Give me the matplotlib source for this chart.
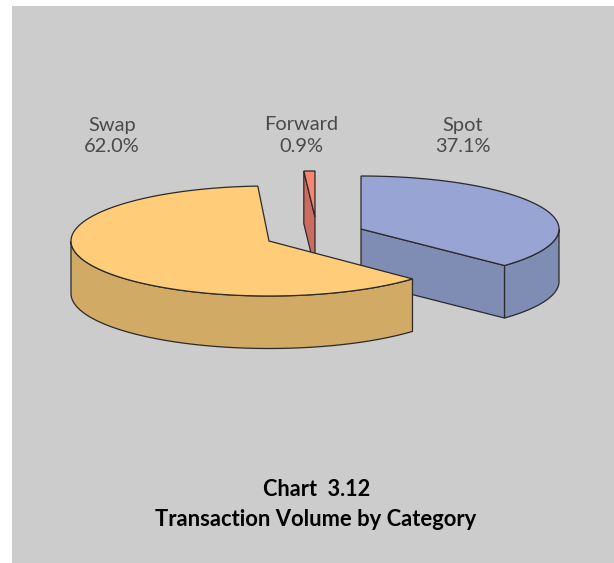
import numpy as np
import matplotlib
matplotlib.use('Agg')
import matplotlib.pyplot as plt
from matplotlib.patches import Rectangle

labels = ['Spot', 'Swap', 'Forward']
shares = [37.1, 62.0, 0.9]

top_colors = ['#98A4D4', '#FFCC7A', '#F58672']
side_colors = ['#7F8CB4', '#D1AA66', '#CC6C60']

#pixel layout of the exploded slices
centers = [(361, 229), (269, 241), (315, 217)]
radius_y = [53, 55, 46]
radius_x = 198
depth = 52.5
label_pos = [(463, 125), (112, 125), (301, 125)]
edge = '#2A2A2A'


def arc(cx, cy, ry, a0, a1):
	t = np.radians(np.linspace(a0, a1, 120))
	return cx + radius_x * np.cos(t), cy - ry * np.sin(t)


fig = plt.figure(figsize=(6.14, 5.63), dpi=100, facecolor='white')
ax = fig.add_axes([0, 0, 1, 1])
ax.set_xlim(0, 614)
ax.set_ylim(563, 0)
ax.axis('off')
ax.add_patch(Rectangle((12, 6), 602, 557, facecolor='#CCCCCC', edgecolor='none', zorder=0))

#angles run clockwise from 12 o'clock
starts = 90 - np.cumsum([0] + shares[:-1]) * 3.6
ends = 90 - np.cumsum(shares) * 3.6

#spot first, then forward, swap goes over both
for i in [0, 2, 1]:
	cx, cy = centers[i]
	ry = radius_y[i]
	z = {0: 1, 2: 2, 1: 3}[i]
	x, y = arc(cx, cy, ry, starts[i], ends[i])

	#outer wall, only the part that faces the viewer
	if i != 2:
		wx, wy = arc(cx, cy, ry, min(starts[i], 0), max(ends[i], -180))
		ax.fill(np.r_[wx, wx[::-1]], np.r_[wy, wy[::-1] + depth],
			facecolor=side_colors[i], edgecolor=edge, linewidth=0.9, zorder=z)

	#cut wall
	if i == 0:
		ax.fill([cx, x[-1], x[-1], cx], [cy, y[-1], y[-1] + depth, cy + depth],
			facecolor=side_colors[i], edgecolor=edge, linewidth=0.9, zorder=z)
	if i == 2:
		ax.fill([x[0], cx, cx, x[0]], [y[0], cy, cy + depth, y[0] + depth],
			facecolor=side_colors[i], edgecolor=edge, linewidth=0.9, zorder=z)

	ax.fill(np.r_[cx, x], np.r_[cy, y], facecolor=top_colors[i], edgecolor=edge,
		linewidth=0.9, joinstyle='miter', zorder=z + 0.5)

for i in range(3):
	ax.text(label_pos[i][0], label_pos[i][1], labels[i], ha='center', va='center',
		family='Lato', fontsize=14.4, color='#4A4A4A', zorder=5)
	ax.text(label_pos[i][0], label_pos[i][1] + 21, '%.1f%%' % shares[i], ha='center', va='center',
		family='Lato', fontsize=14.4, color='#4A4A4A', zorder=5)

ax.text(317, 490, 'Chart  3.12', ha='center', va='center', family='Lato', weight='bold', fontsize=15.6, color='black')
ax.text(316, 519, 'Transaction Volume by Category', ha='center', va='center', family='Lato', weight='bold', fontsize=15.8, color='black')

fig.savefig('out.png', dpi=100)
